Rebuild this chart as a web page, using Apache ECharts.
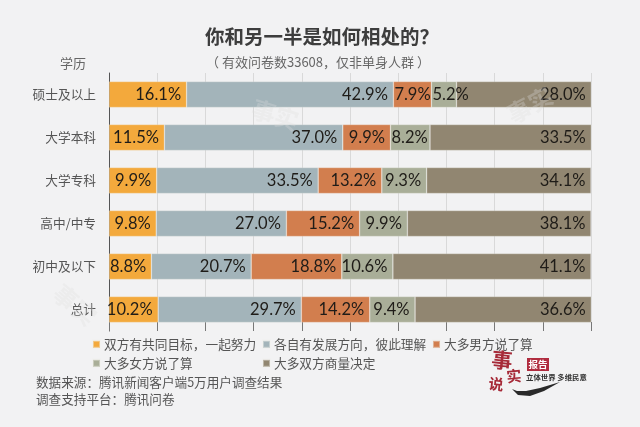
<!DOCTYPE html>
<html><head><meta charset="utf-8">
<style>html,body{margin:0;padding:0;background:#f2f2f3}#c{width:640px;height:427px}</style>
<script src="https://cdn.jsdelivr.net/npm/echarts@6/dist/echarts.min.js"></script>
</head><body><div id="c"></div>
<script>
const categories = ['硕士及以上','大学本科','大学专科','高中/中专','初中及以下','总计'];
const seriesNames = ['双方有共同目标，一起努力','各自有发展方向，彼此理解','大多男方说了算','大多女方说了算','大多双方商量决定'];
const goal = [16.1,11.5,9.9,9.8,8.8,10.2];
const own = [42.9,37.0,33.5,27.0,20.7,29.7];
const male = [7.9,9.9,13.2,15.2,18.8,14.2];
const female = [5.2,8.2,9.3,9.9,10.6,9.4];
const both = [28.0,33.5,34.1,38.1,41.1,36.6];
const seriesValues = [goal,own,male,female,both];
const colors = ['#f3a93c','#a3b4ba','#d27e4e','#a9ae98','#918671'];
const FONT = '"Noto Sans CJK SC","Noto Sans",sans-serif';
const legendPos = [[92,338],[262,338],[432,338],[92,357],[262,357]];
const narrowLimit = 9;
const labelBase = {show:true,color:'#1f1c18',fontSize:16.5,fontFamily:'Lato,sans-serif',formatter:p=>p.value.toFixed(1)+'%'};
const chart = echarts.init(document.getElementById('c'),null,{renderer:'canvas'});
const mark = (text,x,y,rot)=>({type:'text',x,y,rotation:rot,z:20,style:{text,fontSize:24,fontWeight:'bold',fill:'#dddddd',opacity:0.3,align:'center',verticalAlign:'middle',fontFamily:FONT}});
chart.setOption({
  animation:false,
  backgroundColor:'#f2f2f3',
  textStyle:{fontFamily:FONT},
  title:[
    {text:'你和另一半是如何相处的？',left:317,textAlign:'center',top:22,textStyle:{fontSize:19.5,fontWeight:'bold',color:'#3d3d3d',fontFamily:FONT}},
    {text:'（ 有效问卷数33608，仅非单身人群 ）',left:313,textAlign:'center',top:51,textStyle:{fontSize:13,fontWeight:'normal',color:'#666',fontFamily:FONT}},
    {text:'学历',left:68,textAlign:'center',top:52,textStyle:{fontSize:13,fontWeight:'normal',color:'#666',fontFamily:FONT}}
  ],
  grid:{left:109,top:73,width:482,height:258,containLabel:false},
  xAxis:{type:'value',min:0,max:100,interval:10,
    axisLine:{show:false},axisLabel:{show:false},
    axisTick:{show:true,inside:true,length:9,lineStyle:{color:'#777',width:1}},
    splitLine:{show:true,lineStyle:{color:'#d9d9d9',width:1}}},
  yAxis:{type:'category',inverse:true,data:categories,
    axisLine:{show:true,lineStyle:{color:'#555',width:1}},
    axisTick:{show:false},
    axisLabel:{margin:13,fontSize:12.7,color:'#555',fontFamily:FONT}},
  legend:seriesNames.map((n,i)=>({
    data:[n],left:legendPos[i][0],top:legendPos[i][1],orient:'horizontal',padding:0,
    itemWidth:7,itemHeight:7,itemGap:4,icon:'rect',selectedMode:false,
    textStyle:{fontSize:12.7,color:'#555',fontFamily:FONT,padding:[0,0,0,-1]}
  })),
  series:seriesNames.map((n,i)=>({
    name:n,type:'bar',stack:'t',barWidth:26,
    data:seriesValues[i].map(v=>v<narrowLimit
      ?{value:v,label:{position:'insideLeft',distance:1}}
      :{value:v}),
    itemStyle:{color:colors[i],borderColor:'rgba(240,240,235,0.45)',borderWidth:0.6},
    label:Object.assign({position:'insideRight',distance:5.5},labelBase),
    labelLayout:{hideOverlap:false}
  })),
  graphic:[
    mark('事实',75,305,-0.7),mark('事实',275,115,-0.3),mark('事实',530,105,0.5),
    {type:'text',left:36,top:376,style:{text:'数据来源：腾讯新闻客户端5万用户调查结果',fontSize:12.6,fill:'#555',fontFamily:FONT}},
    {type:'text',left:36,top:393,style:{text:'调查支持平台：腾讯问卷',fontSize:12.6,fill:'#555',fontFamily:FONT}},
    {type:'text',x:502,y:360,rotation:-0.1,style:{text:'事',fontSize:21,fontWeight:'bold',fill:'#a62a38',align:'center',verticalAlign:'middle',fontFamily:FONT}},
    {type:'text',x:514,y:376,rotation:0.1,style:{text:'实',fontSize:15,fontWeight:'bold',fill:'#a62a38',align:'center',verticalAlign:'middle',fontFamily:FONT}},
    {type:'text',x:496,y:384,rotation:-0.1,style:{text:'说',fontSize:15,fontWeight:'bold',fill:'#a62a38',align:'center',verticalAlign:'middle',fontFamily:FONT}},
    {type:'rect',shape:{x:527,y:358,width:22,height:13},style:{fill:'#b02c3f'}},
    {type:'text',x:538,y:364.5,style:{text:'报告',fontSize:9.5,fontWeight:'bold',fill:'#fff',align:'center',verticalAlign:'middle',fontFamily:FONT}},
    {type:'text',x:526,y:377,style:{text:'立体世界 多维民意',fontSize:7.4,fontWeight:'bold',fill:'#333',verticalAlign:'middle',fontFamily:'"Noto Sans CJK SC"'}},
    {type:'polygon',shape:{points:[[512,389],[518,395],[530,396],[544,391],[560,382],[540,388],[526,391],[517,391]]},style:{fill:'#2a2a2a'}}
  ]
});
</script></body></html>
